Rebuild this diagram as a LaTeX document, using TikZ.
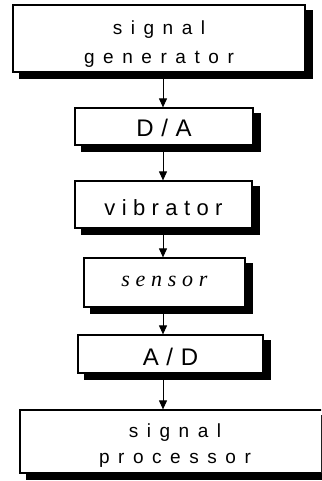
\documentclass[tikz,border=0pt]{standalone}
\usepackage{fontspec}
\setmainfont{Liberation Sans}
\newfontfamily\sansA[LetterSpace=45]{Liberation Sans}
\newfontfamily\sansB[LetterSpace=32]{Liberation Sans}
\newfontfamily\sansC[LetterSpace=29]{Liberation Sans}
\newfontfamily\serifB[LetterSpace=26]{Liberation Serif}
\usetikzlibrary{arrows.meta,backgrounds}
\tikzset{
  blk/.style={draw=black, line width=1.2pt, fill=white, align=center, inner sep=0pt},
  oneline/.style={blk, text depth=0pt},
  arr/.style={line width=1pt, -{Triangle[length=9pt,width=8pt]}},
  shd/.style={fill=black},
}
\newcommand{\boxshadow}[1]{%
  \fill[shd] ([xshift=7pt,yshift=-6pt]#1.south west) rectangle ([xshift=7pt,yshift=-6pt]#1.north east);}
\begin{document}
\begin{tikzpicture}[x=1pt,y=-1pt]
\useasboundingbox (0,0) rectangle (321,481);
\clip (0,0) rectangle (321,481);
\coordinate (ax) at (163,0);
\node[blk, minimum width=292pt, minimum height=67pt, font=\fontsize{19pt}{29pt}\sansA] (b1) at (159,38.5)
  {\rule{0pt}{25pt}signal\\generator};
\node[oneline, minimum width=178pt, minimum height=37pt, text height=21pt, font=\fontsize{24pt}{26pt}\sansB] (b2) at (164,126.5)
  {D/A};
\node[oneline, minimum width=177pt, minimum height=47pt, text height=21pt, font=\fontsize{22pt}{24pt}\sansC] (b3) at (163.5,204.5)
  {vibrator};
\node[oneline, minimum width=161pt, minimum height=49pt, text height=7pt, font=\fontsize{22pt}{24pt}\serifB\itshape] (b4) at (164.5,282.5)
  {sensor};
\node[oneline, minimum width=185pt, minimum height=38pt, text height=23pt, font=\fontsize{24pt}{26pt}\sansB] (b5) at (170.5,354)
  {A/D};
\node[blk, minimum width=310pt, minimum height=63pt, font=\fontsize{19pt}{26pt}\sansA] (b6) at (175,441.5)
  {\rule{0pt}{21pt}signal\\processor};
\begin{scope}[on background layer]
\boxshadow{b1}\boxshadow{b2}\boxshadow{b3}\boxshadow{b4}\boxshadow{b5}\boxshadow{b6}
\end{scope}
\draw[arr] (b1.south -| ax) -- (b2.north -| ax);
\draw[arr] (b2.south -| ax) -- (b3.north -| ax);
\draw[arr] (b3.south -| ax) -- (b4.north -| ax);
\draw[arr] (b4.south -| ax) -- (b5.north -| ax);
\draw[arr] (b5.south -| ax) -- (b6.north -| ax);
\end{tikzpicture}
\end{document}
